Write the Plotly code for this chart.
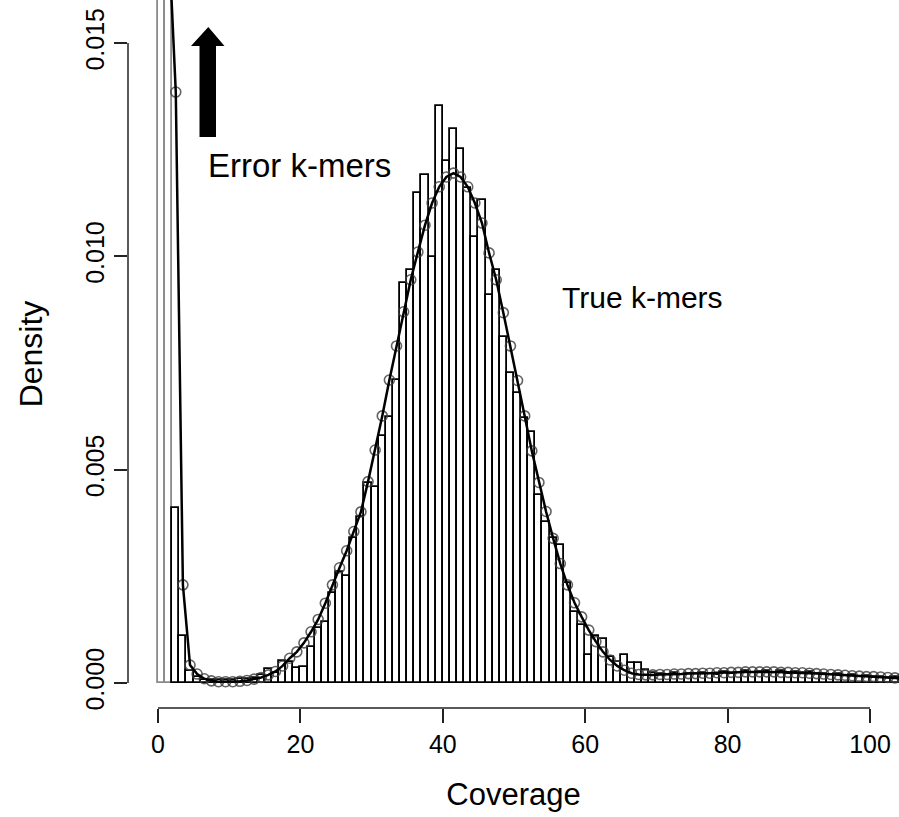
import plotly.graph_objects as go

# ---- data ----
bin_starts = list(range(0, 105))          # coverage bins [k, k+1)
bar_density = [
    0.060, 0.030, 0.0041, 0.0011, 0.00027, 0.00013, 0.00008, 0.00006, 0.00006, 0.00007,
    0.00007, 0.00009, 0.00010, 0.00012, 0.00019, 0.00033, 0.00024, 0.00052, 0.00050, 0.00036,
    0.00038, 0.00084, 0.00128, 0.00144, 0.00212, 0.00260, 0.00250, 0.00340, 0.00390, 0.00468,
    0.00460, 0.00580, 0.00624, 0.00710, 0.00938, 0.00968, 0.01148, 0.01190, 0.00998, 0.01352,
    0.01223, 0.01298, 0.01252, 0.01160, 0.01046, 0.01132, 0.00910, 0.00968, 0.00812, 0.00727,
    0.00679, 0.00620, 0.00589, 0.00440, 0.00378, 0.00339, 0.00323, 0.00234, 0.00167, 0.00136,
    0.00066, 0.00109, 0.00102, 0.00062, 0.00050, 0.00066, 0.00047, 0.00046, 0.00030, 0.00024,
    0.00020, 0.00019, 0.00023, 0.00018, 0.00022, 0.00020, 0.00024, 0.00021, 0.00019, 0.00025,
    0.00022, 0.00024, 0.00027, 0.00023, 0.00026, 0.00028, 0.00024, 0.00027, 0.00022, 0.00026,
    0.00023, 0.00025, 0.00021, 0.00022, 0.00019, 0.00021, 0.00017, 0.00018, 0.00015, 0.00016,
    0.00013, 0.00014, 0.00012, 0.00013, 0.00011,
]
fit_density = [
    0.030, 0.0175, 0.01385, 0.0023, 0.00042, 0.00021, 0.00010, 0.00005, 0.00003, 0.00003,
    0.00003, 0.00004, 0.00006, 0.00009, 0.00013, 0.00019, 0.00027, 0.00040, 0.00058, 0.00073,
    0.00094, 0.00120, 0.00149, 0.00187, 0.00230, 0.00270, 0.00310, 0.00355, 0.00401, 0.00472,
    0.00546, 0.00626, 0.00710, 0.00790, 0.00870, 0.00945, 0.01010, 0.01073, 0.01125, 0.01163,
    0.01186, 0.01195, 0.01186, 0.01163, 0.01125, 0.01078, 0.01008, 0.00945, 0.00868, 0.00790,
    0.00709, 0.00626, 0.00544, 0.00470, 0.00402, 0.00339, 0.00280, 0.00230, 0.00188, 0.00155,
    0.00124, 0.00097, 0.00073, 0.00054, 0.00040, 0.00030, 0.00023, 0.00020, 0.00019, 0.00019,
    0.00020, 0.00020, 0.00021, 0.00021, 0.00022, 0.00022, 0.00023, 0.00023, 0.00024, 0.00024,
    0.00025, 0.00025, 0.00026, 0.00026, 0.00026, 0.00026, 0.00026, 0.00025, 0.00025, 0.00024,
    0.00024, 0.00023, 0.00022, 0.00021, 0.00020, 0.00019, 0.00018, 0.00017, 0.00016, 0.00015,
    0.00015, 0.00014, 0.00013, 0.00012, 0.00012,
]
x_ticks = [0, 20, 40, 60, 80, 100]
y_ticks = [0.000, 0.005, 0.010, 0.015]
y_tick_text = ["0.000", "0.005", "0.010", "0.015"]

FONT = "Liberation Sans, Arial, Helvetica, sans-serif"
W, H = 899, 817
ML, MB = 128, 109
X_RANGE = [-4.21, 104.07]
Y_RANGE = [-0.000586, 0.016008]

bin_mid = [b + 0.5 for b in bin_starts]
bar_line_colors = ["#8a8a8a" if v > Y_RANGE[1] else "black" for v in bar_density]

fig = go.Figure()
fig.add_trace(go.Bar(
    x=bin_mid, y=bar_density, width=1.0,
    marker=dict(color="white", line=dict(color=bar_line_colors, width=1.8)),
    showlegend=False, hoverinfo="skip",
))
fig.add_trace(go.Scatter(
    x=bin_mid, y=fit_density, mode="markers",
    marker=dict(symbol="circle-open", size=10, color="rgba(60,60,60,0.8)",
                line=dict(width=1.6)),
    showlegend=False, cliponaxis=True,
))
fig.add_trace(go.Scatter(
    x=bin_mid, y=fit_density, mode="lines",
    line=dict(color="black", width=2.5),
    showlegend=False, cliponaxis=True,
))

# pixel -> data helpers for annotation geometry
def px2x(px):
    return X_RANGE[0] + (px - ML) / (W - ML) * (X_RANGE[1] - X_RANGE[0])

def py2y(py):
    top, bottom = 0, H - MB
    return Y_RANGE[1] - (py - top) / (bottom - top) * (Y_RANGE[1] - Y_RANGE[0])

# thick black arrow
arrow_pts = [(199.5, 137), (216, 137), (216, 46), (224.5, 46), (208.3, 27),
             (191, 46), (199.5, 46)]
path = "M " + " L ".join(f"{px2x(a)},{py2y(b)}" for a, b in arrow_pts) + " Z"
shapes = [
    dict(type="path", path=path, xref="x", yref="y",
         fillcolor="black", line=dict(color="black", width=0)),
    # R-style axis lines spanning first to last tick
    dict(type="line", xref="x", yref="paper", x0=x_ticks[0], x1=x_ticks[-1], y0=0, y1=0,
         line=dict(color="#222", width=1.5)),
    dict(type="line", xref="paper", yref="y", x0=0, x1=0, y0=y_ticks[0], y1=y_ticks[-1],
         line=dict(color="#222", width=1.5)),
]

fig.update_layout(
    width=W, height=H,
    margin=dict(l=ML, r=0, t=0, b=MB),
    paper_bgcolor="white", plot_bgcolor="white",
    bargap=0, showlegend=False,
    font=dict(family=FONT, color="black"),
    shapes=shapes,
    xaxis=dict(range=X_RANGE, tickvals=x_ticks, ticks="outside", ticklen=14,
               tickwidth=1.5, tickcolor="#222", showgrid=False, zeroline=False,
               showline=False, tickfont=dict(size=25, family=FONT),
               title=dict(text="Coverage", font=dict(size=31, family=FONT), standoff=26)),
    yaxis=dict(range=Y_RANGE, tickvals=y_ticks, ticktext=y_tick_text, ticks="outside",
               ticklen=13, tickwidth=1.5, tickcolor="#222", showgrid=False,
               zeroline=False, showline=False, tickangle=-90,
               tickfont=dict(size=25, family=FONT),
               title=dict(text="Density", font=dict(size=32, family=FONT), standoff=28)),
    annotations=[
        dict(text="Error k-mers", x=px2x(299.5), y=py2y(165), xref="x", yref="y",
             showarrow=False, font=dict(size=33, family=FONT), xanchor="center",
             yanchor="middle"),
        dict(text="True k-mers", x=px2x(642.5), y=py2y(297), xref="x", yref="y",
             showarrow=False, font=dict(size=30, family=FONT), xanchor="center",
             yanchor="middle"),
    ],
)

fig.write_html(
    "out.html",
    config={"displayModeBar": False},
    post_script="document.body.style.margin='0';document.body.style.padding='0';"
                "document.body.style.overflow='hidden';",
)
